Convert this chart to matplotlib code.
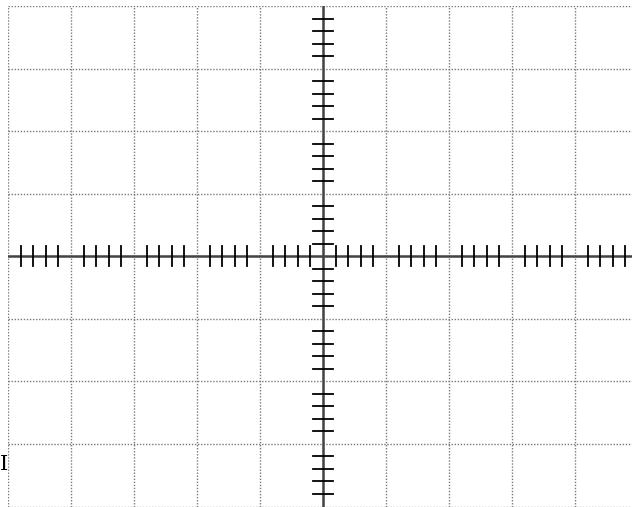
import matplotlib
matplotlib.use("Agg")
import matplotlib.pyplot as plt
import numpy as np

# graticule: 10 x 8 divisions, 5 subdivisions on the centre axes
n_xdiv = 10
n_ydiv = 8
n_sub = 5

fig = plt.figure(figsize=(6.32, 5.07), dpi=100)
ax = fig.add_axes([8 / 632, 0.5 / 507, 630 / 632, 500.5 / 507])
ax.set_xlim(0, n_xdiv)
ax.set_ylim(0, n_ydiv)
ax.axis("off")

px = 1 / 63.0  # one pixel in division units (approx)

# dotted grid
for x in range(n_xdiv + 1):
    ax.axvline(x, color="#7a7a7a", lw=1.0, ls=(0, (1, 1.2)))
for y in range(n_ydiv + 1):
    ax.axhline(y, color="#7a7a7a", lw=1.0, ls=(0, (1, 1.2)))

cx = n_xdiv / 2
cy = n_ydiv / 2

# centre axes
ax.axhline(cy, color="#444444", lw=1.8)
ax.axvline(cx, color="#444444", lw=1.8)

# minor ticks on centre axes
tick = 10 * px
xs = [i / n_sub for i in range(n_xdiv * n_sub + 1) if i % n_sub != 0]
ys = [i / n_sub for i in range(n_ydiv * n_sub + 1) if i % n_sub != 0]
for x in xs:
    ax.plot([x, x], [cy - tick, cy + tick], color="black", lw=1.3)
for y in ys:
    ax.plot([cx - tick * 63 / 62.5, cx + tick * 63 / 62.5], [y, y], color="black", lw=1.3)

# label fragment at the left edge
fig.text(0.0, (507 - 464) / 507, "I", fontsize=15, family="DejaVu Serif",
         ha="left", va="center", color="black")

fig.savefig("out.png", dpi=100)
